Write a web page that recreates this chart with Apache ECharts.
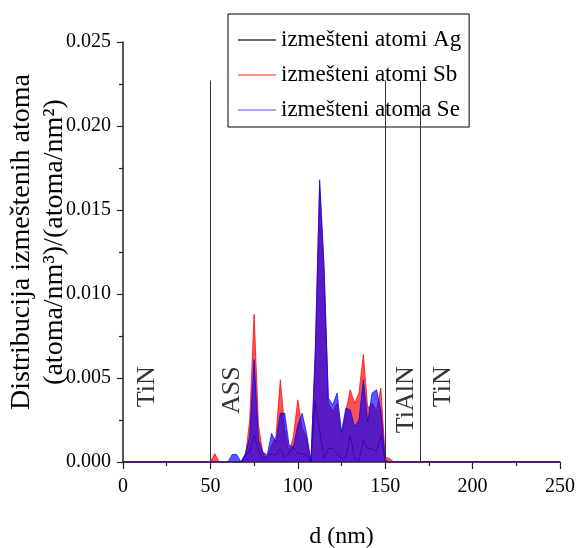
<!DOCTYPE html>
<html>
<head>
<meta charset="utf-8">
<script src="https://cdn.jsdelivr.net/npm/echarts@6/dist/echarts.min.js"></script>
<style>
html,body{margin:0;padding:0;background:#fff;}
#chart{width:578px;height:548px;}
</style>
</head>
<body>
<div id="chart"></div>
<script>
// distance d (nm)
var dist = [0, 50, 52.5, 55, 57.5, 60, 62.5, 65, 67.5, 70, 72.5, 75, 77.5, 80, 82.5, 85, 87.5, 90, 92.5, 95, 97.5, 100, 102.5, 105, 107.5, 110, 112.5, 115, 117.5, 120, 122.5, 125, 127.5, 130, 132.5, 135, 137.5, 140, 142.5, 145, 147.5, 150, 152.5, 155, 250];
var ag = [0, 0, 0, 0, 0, 0, 0, 0, 0, 0.0004, 0.0006, 0.0016, 0.0007, 0.0002, 0.0003, 0.0005, 0.0004, 0.0008, 0.0003, 0.0005, 0.0009, 0.0005, 0.0005, 0.0004, 0, 0.0036, 0.0019, 0.0002, 0.0008, 0.0008, 0.0005, 0.0002, 0.0003, 0.0016, 0.0002, 0.0001, 0.0013, 0.0008, 0.0008, 0.0006, 0.0016, 0, 0, 0, 0];
var sb = [0, 0, 0.0005, 0, 0, 0, 0, 0, 0, 0.0003, 0.0025, 0.0088, 0.0022, 0.0005, 0.0002, 0.0010, 0.0015, 0.0049, 0.0020, 0.0006, 0.0015, 0.0037, 0.0020, 0.0015, 0, 0.0063, 0.0165, 0.0115, 0.0035, 0.0030, 0.0035, 0.0015, 0.0030, 0.0043, 0.0035, 0.0041, 0.0064, 0.0032, 0.0035, 0.0030, 0.0044, 0.0003, 0.0002, 0, 0];
var se = [0, 0, 0, 0, 0, 0, 0.00045, 0.00045, 0, 0.0005, 0.0015, 0.0061, 0.0013, 0.0006, 0.0004, 0.0017, 0.0012, 0.0029, 0.0029, 0.0010, 0.0009, 0.0022, 0.0029, 0.0017, 0, 0.0067, 0.0168, 0.0117, 0.0038, 0.0034, 0.0041, 0.0018, 0.0032, 0.0031, 0.0021, 0.0025, 0.0049, 0.0024, 0.0041, 0.0043, 0.0031, 0.0001, 0, 0, 0];
var seriesNames = ['izmešteni atomi Ag', 'izmešteni atomi Sb', 'izmešteni atoma Se'];
// layer boundaries (nm) and their height
var boundaries = [50, 150, 170];
var boundaryTop = 0.0227;
// region labels and their anchor (top end of the rotated text)
var regionNames = ['TiN', 'ASS', 'TiAlN', 'TiN'];
var regionX = [14.1, 62.6, 161.8, 183];
var regionY = [0.0057, 0.0057, 0.0057, 0.0057];

var FONT = '"Liberation Serif", "DejaVu Serif", serif';
function pairs(ys) { return dist.map(function (d, i) { return [d, ys[i]]; }); }

var chart = echarts.init(document.getElementById('chart'), null, {renderer: 'canvas'});
chart.setOption({
  animation: false,
  backgroundColor: '#fff',
  grid: {left: 123, right: 18, top: 42, bottom: 86, containLabel: false, outerBoundsMode: 'none'},
  xAxis: {
    type: 'value', min: 0, max: 250, interval: 50,
    name: 'd (nm)', nameLocation: 'middle', nameGap: 63,
    nameTextStyle: {fontFamily: FONT, fontSize: 24, color: '#000'},
    axisLine: {lineStyle: {color: '#222', width: 1.5}},
    axisTick: {show: true, inside: false, length: 7, lineStyle: {color: '#222', width: 1.2}},
    minorTick: {show: true, splitNumber: 2, length: 4, lineStyle: {color: '#222', width: 1.2}},
    axisLabel: {fontFamily: FONT, fontSize: 20, color: '#000', margin: 15},
    splitLine: {show: false}
  },
  yAxis: {
    type: 'value', min: 0, max: 0.025, interval: 0.005,
    axisLine: {show: true, lineStyle: {color: '#222', width: 1.5}},
    axisTick: {show: true, inside: false, length: 6, lineStyle: {color: '#222', width: 1.2}},
    minorTick: {show: true, splitNumber: 2, length: 4, lineStyle: {color: '#222', width: 1.2}},
    axisLabel: {fontFamily: FONT, fontSize: 20, color: '#000', margin: 12,
      formatter: function (v) { return v.toFixed(3); }},
    splitLine: {show: false}
  },
  legend: {
    left: 228, top: 14, orient: 'vertical',
    padding: [13, 8, 4, 10], itemGap: 9,
    itemWidth: 38, itemHeight: 1.5,
    backgroundColor: '#fff', borderColor: '#000', borderWidth: 1,
    textStyle: {fontFamily: FONT, fontSize: 23, color: '#000', lineHeight: 26},
    data: [
      {name: seriesNames[0], icon: 'rect', itemStyle: {color: '#333'}},
      {name: seriesNames[1], icon: 'rect', itemStyle: {color: '#ff6a6a'}},
      {name: seriesNames[2], icon: 'rect', itemStyle: {color: '#8a8aff'}}
    ]
  },
  graphic: [{
    type: 'text', x: 38, y: 242, rotation: Math.PI / 2,
    style: {
      text: 'Distribucija izmeštenih atoma\n(atoma/nm³)/(atoma/nm²)',
      font: '28px ' + FONT, fill: '#000', align: 'center', verticalAlign: 'middle', lineHeight: 33
    }
  }],
  series: [
    {
      name: seriesNames[0], type: 'line', data: pairs(ag), showSymbol: false, symbol: 'none',
      lineStyle: {color: '#111', width: 1}, itemStyle: {color: '#333'}, z: 2
    },
    {
      name: seriesNames[1], type: 'line', data: pairs(sb), showSymbol: false, symbol: 'none',
      lineStyle: {color: 'rgba(255,0,0,0.75)', width: 1},
      areaStyle: {color: 'rgba(255,0,0,0.68)', opacity: 1, origin: 'start'},
      itemStyle: {color: '#ff6a6a'}, z: 3
    },
    {
      name: seriesNames[2], type: 'line', data: pairs(se), showSymbol: false, symbol: 'none',
      lineStyle: {color: 'rgba(0,0,255,0.75)', width: 1},
      areaStyle: {color: 'rgba(0,0,255,0.65)', opacity: 1, origin: 'start'},
      itemStyle: {color: '#8a8aff'}, z: 4
    },
    {
      name: 'boundaries', type: 'line', data: [], silent: true, z: 5,
      markLine: {
        silent: true, symbol: 'none', animation: false,
        label: {show: false},
        lineStyle: {color: '#333', width: 1, type: 'solid'},
        data: boundaries.map(function (b) { return [{coord: [b, 0]}, {coord: [b, boundaryTop]}]; })
      }
    },
    {
      name: 'regions', type: 'scatter', symbolSize: 0, silent: true, z: 6,
      data: regionNames.map(function (n, i) { return {value: [regionX[i], regionY[i]], name: n}; }),
      label: {
        show: true, position: [0, 0], rotate: 90, align: 'right', verticalAlign: 'middle',
        formatter: function (p) { return p.name; },
        fontFamily: FONT, fontSize: 26, color: '#000'
      }
    }
  ]
});
</script>
</body>
</html>
